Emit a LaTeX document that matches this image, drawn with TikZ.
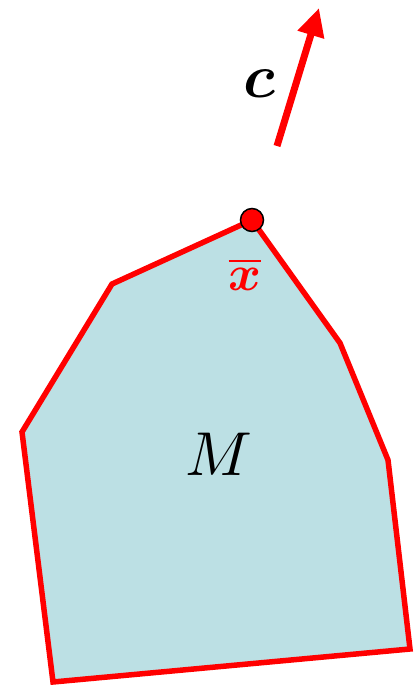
\documentclass[tikz,border=0pt]{standalone}
\usepackage{amsmath,bm,graphicx}
\usetikzlibrary{arrows.meta}
\definecolor{regionfill}{HTML}{BCE0E4}
\definecolor{edgered}{HTML}{FF0000}
\tikzset{
  region/.style={draw=edgered, fill=regionfill, line width=5.5pt, line join=miter},
  vecarrow/.style={draw=edgered, line width=7pt, -{Triangle[length=28pt,width=26pt]}},
  optdot/.style={circle, draw=black, fill=edgered, line width=1.5pt, minimum size=23pt, inner sep=0pt},
  lbl/.style={inner sep=0pt}
}
\begin{document}
\begin{tikzpicture}[x=1pt,y=-1pt]
\useasboundingbox (0,0) rectangle (417,685);
\coordinate (v1) at (252,220);
\coordinate (v2) at (112,284);
\coordinate (v3) at (22,432);
\coordinate (v4) at (53,682);
\coordinate (v5) at (410,649);
\coordinate (v6) at (388,460);
\coordinate (v7) at (340,343);
\draw[region] (v1) -- (v2) -- (v3) -- (v4) -- (v5) -- (v6) -- (v7) -- cycle;
\node[optdot] (xb) at (v1) {};
\coordinate (ctail) at (277,146);
\coordinate (chead) at (319,8);
\draw[vecarrow] (ctail) -- (chead);
\node[lbl] (clabel) at (259,84) {\scalebox{6.2}{$\bm{c}$}};
\node[lbl, text=edgered] (xlabel) at (245,274) {\scalebox{5}{$\bm{\overline{x}}$}};
\node[lbl] (mlabel) at (219,454) {\scalebox{6.2}{$M$}};
\end{tikzpicture}
\end{document}
